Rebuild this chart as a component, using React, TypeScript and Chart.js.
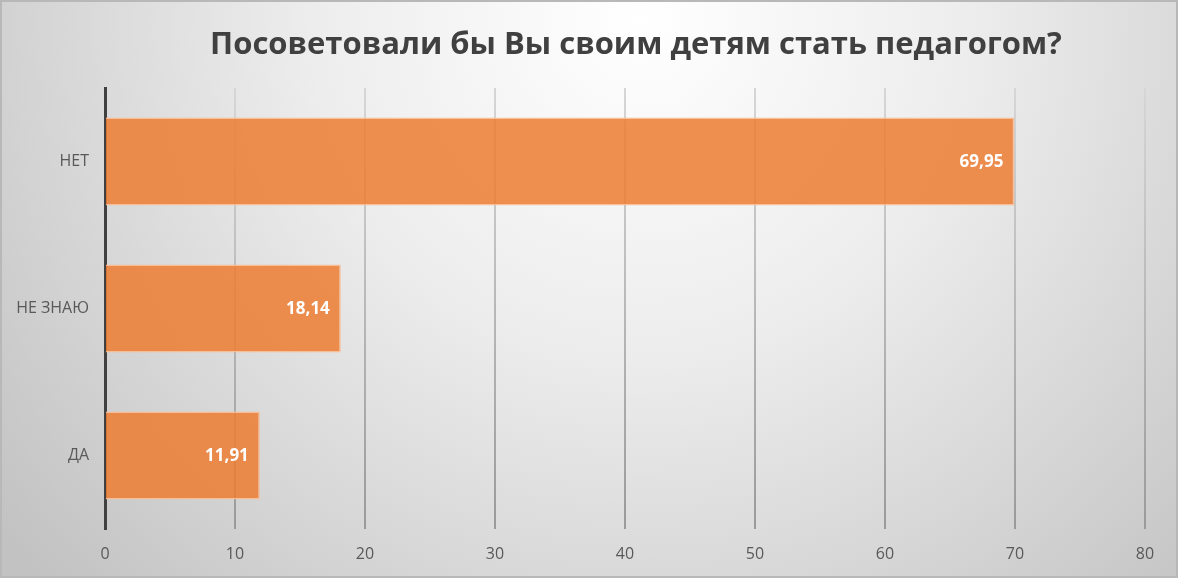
import React, { useEffect, useRef } from "react";
import { Chart, registerables } from "chart.js";

Chart.register(...registerables);

const TITLE = "Посоветовали бы Вы своим детям стать педагогом?";
const categories = ["НЕТ", "НЕ ЗНАЮ", "ДА"];
const values = [69.95, 18.14, 11.91];
const xTicks = [0, 10, 20, 30, 40, 50, 60, 70, 80];

const W = 1178;
const H = 578;

export default function App() {
  const ref = useRef<HTMLCanvasElement | null>(null);

  useEffect(() => {
    if (!ref.current) return;

    const bgPlugin = {
      id: "bg",
      beforeDraw(chart: any) {
        const c = chart.ctx;
        c.save();
        const g = c.createRadialGradient(640, 20, 0, 640, 20, 820);
        g.addColorStop(0, "#ffffff");
        g.addColorStop(0.4, "#ededed");
        g.addColorStop(1, "#c2c2c2");
        c.fillStyle = g;
        c.fillRect(0, 0, W, H);
        c.strokeStyle = "#b8b8b8";
        c.lineWidth = 3;
        c.strokeRect(0.5, 0.5, W - 1, H - 1);
        c.restore();
      },
    };

    const titlePlugin = {
      id: "ttl",
      afterDraw(chart: any) {
        const c = chart.ctx;
        c.save();
        c.font = "bold 31px 'Open Sans', sans-serif";
        c.fillStyle = "#404040";
        c.textAlign = "center";
        c.textBaseline = "middle";
        c.fillText(TITLE, 636, 45);
        c.restore();
      },
    };

    const labelPlugin = {
      id: "lbl",
      afterDatasetsDraw(chart: any) {
        const c = chart.ctx;
        const meta = chart.getDatasetMeta(0);
        c.save();
        c.font = "bold 17px 'Open Sans', sans-serif";
        c.fillStyle = "#ffffff";
        c.textAlign = "right";
        c.textBaseline = "middle";
        meta.data.forEach((bar: any, i: number) => {
          const txt = values[i].toFixed(2).replace(".", ",");
          c.fillText(txt, bar.x - 11, bar.y + 1);
        });
        c.restore();
      },
    };

    const chart = new Chart(ref.current, {
      type: "bar",
      data: {
        labels: categories,
        datasets: [
          {
            data: values,
            backgroundColor: "rgba(237,125,49,0.85)",
            borderColor: "rgba(248,190,150,0.95)",
            borderWidth: 1.5,
            categoryPercentage: 0.6,
            barPercentage: 1,
          },
        ],
      },
      options: {
        indexAxis: "y",
        responsive: false,
        animation: false,
        devicePixelRatio: 1,
        layout: { padding: { top: 88, right: 33, left: 0, bottom: 0 } },
        plugins: {
          legend: { display: false },
          tooltip: { enabled: false },
          title: { display: false },
        },
        scales: {
          x: {
            min: 0,
            max: 80,
            afterBuildTicks(scale: any) {
              scale.ticks = xTicks.map((v) => ({ value: v }));
            },
            afterFit(scale: any) {
              scale.height = H - 529;
            },
            border: { display: false },
            grid: {
              drawTicks: false,
              lineWidth: 2,
              color: (ctx: any) => {
                if (ctx.tick && ctx.tick.value === 0) return "rgba(0,0,0,0)";
                const g = ctx.chart.ctx.createLinearGradient(0, 89, 0, 528);
                g.addColorStop(0, "#d6d6d6");
                g.addColorStop(1, "#9a9a9a");
                return g;
              },
            },
            ticks: {
              color: "#595959",
              font: { size: 16, family: "'Open Sans', sans-serif" },
              padding: 16,
              callback: (v: any) => String(v),
            },
          },
          y: {
            afterFit(scale: any) {
              scale.width = 105;
            },
            border: { display: true, color: "#404040", width: 3 },
            grid: { display: false },
            ticks: {
              color: "#595959",
              font: { size: 16, family: "'Open Sans', sans-serif" },
              padding: 8,
            },
          },
        },
      },
      plugins: [bgPlugin, labelPlugin, titlePlugin],
    } as any);

    return () => chart.destroy();
  }, []);

  return (
    <div style={{ position: "absolute", left: 0, top: 0, width: W, height: H }}>
      <canvas ref={ref} width={W} height={H} style={{ width: W, height: H, display: "block" }} />
    </div>
  );
}
